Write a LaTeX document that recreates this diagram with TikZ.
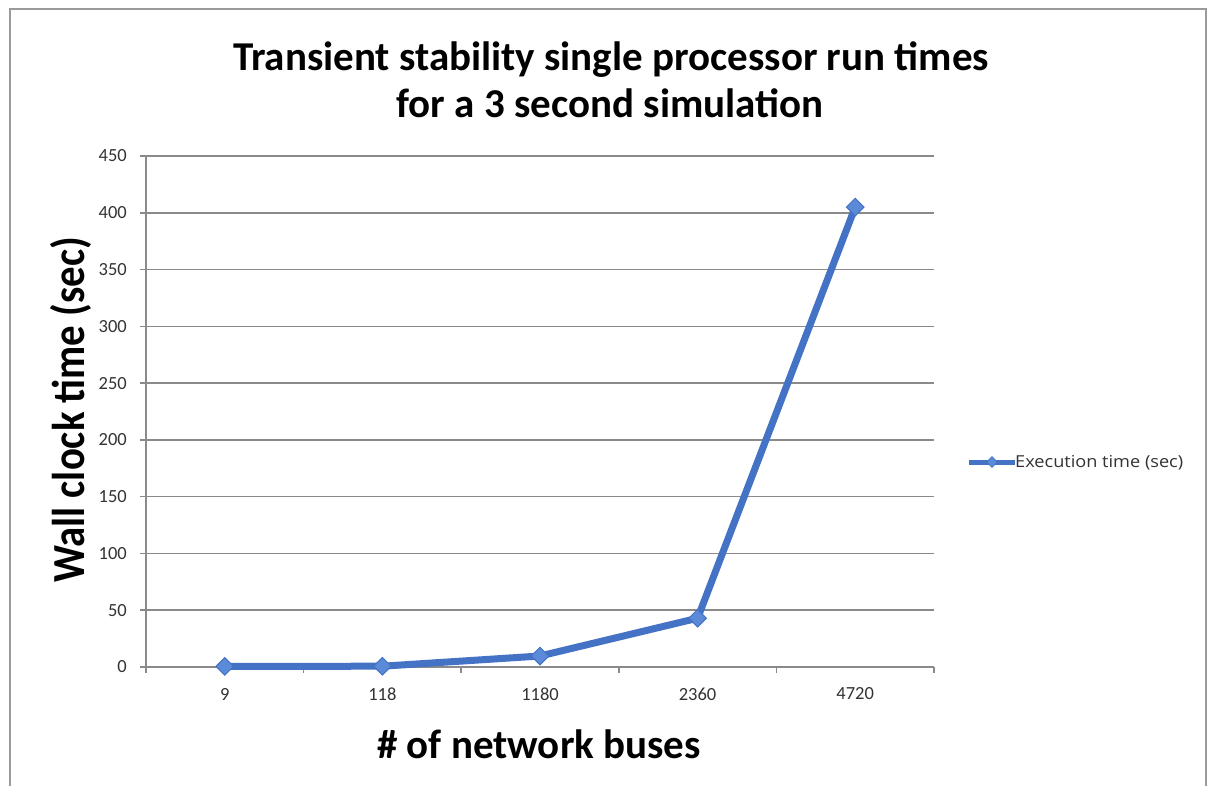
\documentclass[tikz,border=0pt]{standalone}
\usepackage{fontspec}
\setmainfont{Carlito}
\newfontfamily\legendfont{Open Sans}
\usetikzlibrary{shapes.geometric}
\definecolor{gridgray}{HTML}{8A8A8A}
\definecolor{framegray}{HTML}{9A9A9A}
\definecolor{ticktext}{HTML}{333333}
\definecolor{seriesblue}{HTML}{4472C4}
\definecolor{markblue}{HTML}{5A8AD8}
\tikzset{
  gridline/.style={draw=gridgray, line width=1.5pt},
  ticklabel/.style={font=\fontsize{18.5}{20}\selectfont, text=ticktext, inner sep=0pt},
  series/.style={draw=seriesblue, line width=7pt, line join=round, line cap=round},
  datapt/.style={diamond, fill=markblue, draw=seriesblue, line width=1pt, inner sep=0pt, minimum width=18pt, minimum height=18pt},
  legpt/.style={diamond, fill=markblue, draw=seriesblue, line width=0.8pt, inner sep=0pt, minimum width=11pt, minimum height=11pt},
  titletext/.style={font=\bfseries\fontsize{41}{50}\selectfont, inner sep=0pt, anchor=base},
  axtitle/.style={font=\bfseries\fontsize{41}{44}\selectfont, inner sep=0pt},
}
\begin{document}
\begin{tikzpicture}[x=1pt,y=-1pt]
\useasboundingbox (0,0) rectangle (1208,785);
\fill[white] (0,0) rectangle (1208,785);
% chart frame
\begin{scope}
\clip (0,0) rectangle (1208,785);
\draw[framegray, line width=2pt] (10,800) -- (10,9) -- (1206,9) -- (1206,800);
\end{scope}

% title, two centred lines
\node[titletext] (title1) at (611,70) {Transient stability single processor run times};
\node[titletext] (title2) at (610,117) {for a 3 second simulation};

% horizontal gridlines and y tick labels
\foreach \v in {0,50,...,450}{
  \draw[gridline] (140,{667-1.13556*\v}) -- (934,{667-1.13556*\v});
  \node[ticklabel, anchor=east] (ylab\v) at (127,{667-1.13556*\v}) {\v};
}
% axes
\draw[gridline] (146,156) -- (146,672);
\draw[gridline] (146,667) -- (934,667);
\foreach \k in {0,...,5}{
  \draw[gridline] ({146+157.6*\k},667) -- ({146+157.6*\k},673);
}
% x tick labels
\foreach \lab [count=\i from 0] in {9,118,1180,2360,4720}{
  \node[ticklabel] (xlab\i) at ({224.8+157.6*\i},694) {\lab};
}

% axis titles
\node[axtitle, rotate=90, font=\bfseries\fontsize{40}{44}\selectfont] (ytitle) at (71,410) {\scalebox{1.02}[1.15]{Wall clock time (sec)}};
\node[axtitle] (xtitle) at (539,744) {\# of network buses};

% data points
\coordinate (p0) at (224.8,666.4);
\coordinate (p1) at (382.4,666.2);
\coordinate (p2) at (540.0,656.0);
\coordinate (p3) at (697.6,618.2);
\coordinate (p4) at (855.2,207.1);
\draw[series] (p0) -- (p1) -- (p2) -- (p3) -- (p4);
\foreach \i in {0,...,4}{
  \node[datapt] (m\i) at (p\i) {};
}

% legend
\coordinate (lg0) at (969,462);
\coordinate (lg1) at (1015,462);
\draw[series, line width=5pt, line cap=butt] (lg0) -- (lg1);
\node[legpt] (lgm) at (992,462) {};
\node[font=\legendfont\fontsize{16.5}{18}\selectfont, text=ticktext, anchor=west, inner sep=0pt] (legtext) at (1015,463) {\scalebox{1.1}[1]{Execution time (sec)}};
\end{tikzpicture}
\end{document}
